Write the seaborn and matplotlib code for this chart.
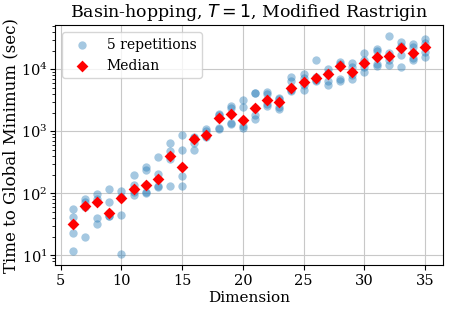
import numpy as np
import pandas as pd
import matplotlib
matplotlib.use("Agg")
import matplotlib.pyplot as plt
import seaborn as sns

plt.rcParams['font.family'] = ['DejaVu Serif']

dims = list(range(6, 36))
# five repetitions per dimension (sorted high -> low), seconds
run_1 = [56, 81, 97, 116, 109, 200, 266, 381, 646, 884, 820, 1104, 1900, 2600, 3222,
         4200, 4300, 3400, 7450, 8400, 14100, 10000, 13270, 12480, 18070, 21000, 34300, 27000, 25470, 30700]
run_2 = [41, 73, 80, 73, 88, 138, 241, 205, 487, 500, 790, 1000, 1850, 2400, 2455,
         4100, 4020, 3300, 6500, 7300, 7500, 8600, 12000, 11030, 14000, 19500, 18070, 24000, 23100, 26000]
run_3 = [32, 62, 73, 49, 84, 116, 135, 171, 398, 266, 762, 885, 1636, 1900, 1500,
         2367, 3140, 2920, 4900, 6330, 7180, 8310, 11450, 9180, 12480, 15970, 16370, 21740, 18070, 23100]
run_4 = [23, 60, 40, 44, 45, 105, 105, 133, 359, 193, 650, 850, 1150, 1350, 1200,
         1850, 2800, 2500, 4600, 5500, 6800, 6500, 7000, 8110, 11000, 12000, 14100, 17000, 15390, 18750]
run_5 = [12, 20, 32, 43, 10.5, 94, 103, 128, 133, 133, 508, 812, 1100, 1300, 1130,
         1597, 2517, 2280, 4390, 4650, 6500, 5610, 6580, 7000, 9180, 11300, 11740, 10770, 14120, 15970]

rows = []
for run in [run_1, run_2, run_3, run_4, run_5]:
    for d, t in zip(dims, run):
        rows.append((d, t))
df = pd.DataFrame(rows, columns=["dim", "time"])
med = df.groupby("dim", as_index=False)["time"].median()

fig, ax = plt.subplots(figsize=(4.49, 3.1), dpi=100)
sns.scatterplot(data=df, x="dim", y="time", ax=ax, color="#1f77b4", alpha=0.4,
                s=36, linewidth=0, label="5 repetitions")
sns.scatterplot(data=med, x="dim", y="time", ax=ax, color="red", marker="D",
                s=36, linewidth=0, label="Median")
ax.set_yscale("log")
ax.grid(True, color="#c8c8c8", linewidth=0.8)
ax.set_axisbelow(True)
ax.set_title("Basin-hopping, $T = 1$, Modified Rastrigin", fontsize=12.5)
ax.set_xlabel("Dimension", fontsize=11, labelpad=2)
ax.set_ylabel("Time to Global Minimum (sec)", fontsize=12, labelpad=1)
ax.tick_params(labelsize=10.5, pad=3)
ax.tick_params(axis="y", pad=2)
ax.legend(loc="upper left", fontsize=10)
fig.subplots_adjust(left=0.123, right=0.986, top=0.919, bottom=0.145)
fig.savefig("out.png")
